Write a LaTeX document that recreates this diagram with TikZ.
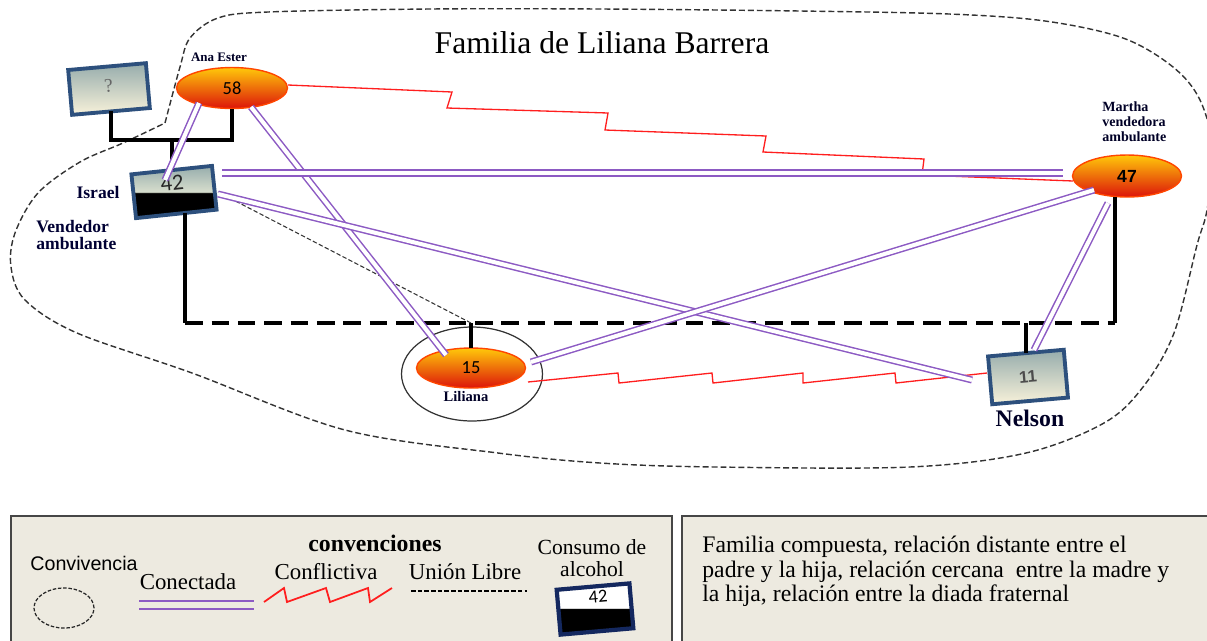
\documentclass[tikz,border=0pt]{standalone}
\usepackage{fontspec}
\setmainfont{Liberation Serif}
\newfontfamily\numfont{Carlito}
\newfontfamily\arialfont{Liberation Sans}
\usetikzlibrary{shapes.geometric,calc}

\definecolor{purp}{RGB}{140,90,195}
\definecolor{redl}{RGB}{255,30,30}
\definecolor{frameblue}{RGB}{45,80,125}
\definecolor{navy}{RGB}{20,40,95}
\definecolor{legfill}{RGB}{237,234,224}
\definecolor{legdraw}{RGB}{70,70,70}
\definecolor{boxtop}{RGB}{150,172,172}
\definecolor{boxbot}{RGB}{248,242,218}
\definecolor{isrlight}{RGB}{215,222,205}
\definecolor{ballyel}{RGB}{255,200,10}
\definecolor{ballor}{RGB}{255,100,0}
\definecolor{ballred}{RGB}{220,20,10}

\pgfdeclareverticalshading{israelsh}{100bp}{color(0bp)=(black); color(49bp)=(black); color(50bp)=(isrlight); color(75bp)=(boxtop); color(100bp)=(boxtop)}
\pgfdeclareverticalshading{legsh}{100bp}{color(0bp)=(black); color(50bp)=(black); color(51bp)=(white); color(100bp)=(white)}

\tikzset{
  person/.style={ellipse, inner sep=0pt, outer sep=0pt, draw=ballor!70!red, line width=0.8pt,
    top color=ballyel, middle color=ballor, bottom color=ballred, font=\numfont\fontsize{10.5}{11}\selectfont},
  framebox/.style={rectangle, inner sep=0pt, outer sep=0pt, draw=frameblue, line width=2.2pt,
    top color=boxtop, bottom color=boxbot},
  israelbox/.style={rectangle, inner sep=0pt, outer sep=0pt, draw=frameblue, line width=2.2pt, shading=israelsh},
  legiconbox/.style={rectangle, inner sep=0pt, outer sep=0pt, draw=navy, line width=2.4pt, shading=legsh},
  conn/.style={draw=purp, line width=0.85pt, double=white, double distance=2.3pt},
  confl/.style={draw=redl, line width=0.75pt, line join=miter},
  kin/.style={draw=black, line width=2.2pt},
  uniondash/.style={draw=black, line width=2.3pt, dash pattern=on 10pt off 5pt},
  distant/.style={draw=black!80, line width=0.6pt, dash pattern=on 2.5pt off 1.3pt},
  tinylbl/.style={font=\bfseries\fontsize{7.4}{8.5}\selectfont, text=black!85!blue},
  legtext/.style={font=\fontsize{13}{13}\selectfont},
  legbox/.style={rectangle, draw=legdraw, line width=1.2pt, fill=legfill, inner sep=0pt, anchor=north west},
}

\begin{document}
\begin{tikzpicture}[x=0.02cm,y=-0.02cm]
\useasboundingbox (0,0) rectangle (1207,640);

% family boundary
\draw[line width=0.8pt, dash pattern=on 3.4pt off 1.7pt, black!80]
  plot[smooth, tension=0.55] coordinates {(165,123) (180,67) (190,38) (218,18) (268,12) (430,9) (600,9) (800,11) (949,14) (1045,21) (1123,38) (1173,67) (1200,100) (1213,150) (1207,210) (1197,245) (1174,333) (1143,387) (1104,423) (1026,453) (910,467) (716,467) (600,463) (498,453) (345,430) (192,373) (77,333) (25,300) (11,267) (15,233) (38,193) (80,162) (123,143) (165,123)};

% title
\node[font=\fontsize{18}{20}\selectfont] (title) at (602,43) {Familia de Liliana Barrera};

% persons
\node[framebox, minimum width=1.56cm, minimum height=0.9cm, rotate=5, text=black!60,
      font=\fontsize{11}{11}\selectfont] (q) at (109,89) {\raisebox{4pt}{?}};
\node[person, minimum width=2.22cm, minimum height=0.82cm] (ana) at (232,88) {58};
\node[tinylbl] (analbl) at (219,57) {Ana Ester};

\node[israelbox, minimum width=1.62cm, minimum height=0.88cm, rotate=6] (isr) at (174,192) {};
\node[font=\numfont\fontsize{13}{13}\selectfont, rotate=6, text=black!85] (isrnum) at (172,183) {42};
\node[font=\bfseries\fontsize{10}{10}\selectfont, text=black!80!blue] (isrlbl) at (98,192) {Israel};
\node[font=\bfseries\fontsize{10}{9.5}\selectfont, text=black!80!blue, align=left, anchor=west, inner sep=0pt] (isrocc) at (36,235) {Vendedor\\ambulante};

\node[person, minimum width=2.18cm, minimum height=0.84cm, font=\arialfont\bfseries\fontsize{10}{10}\selectfont] (mar) at (1127,176) {47};
\node[tinylbl, font=\bfseries\fontsize{8}{8.5}\selectfont, align=left, anchor=west, inner sep=0pt] (marlbl) at (1102,122) {Martha\\vendedora\\ambulante};

\node[draw=black!80, line width=0.7pt, ellipse, minimum width=2.82cm, minimum height=1.88cm, inner sep=0pt] (convcirc) at (472,374) {};
\node[person, minimum width=2.18cm, minimum height=0.80cm] (lili) at (471,368) {15};
\node[tinylbl, font=\bfseries\fontsize{8.3}{9}\selectfont] (lililbl) at (466,397) {Liliana};

\node[framebox, minimum width=1.52cm, minimum height=0.96cm, rotate=5, text=black!70,
      font=\arialfont\bfseries\fontsize{9.5}{10}\selectfont] (nel) at (1028,377) {11};
\node[font=\bfseries\fontsize{13.5}{14}\selectfont, text=black!85!blue] (nellbl) at (1030,418) {Nelson};

% kinship lines
\draw[kin] (q.south) -- ++(0,29) coordinate (pbar) -| (ana.south);
\draw[kin] (isr.north) -- (isr.north |- pbar);
\coordinate (ubar) at (0,323);
\coordinate (isb) at ($(isr.south)!0.22!(isr.south east)$);
\coordinate (mb) at (mar.240);
\draw[kin] (isb) -- (isb |- ubar) coordinate (ul);
\draw[kin] (mb) -- (mb |- ubar) coordinate (ur);
\draw[uniondash] (ul) -- (ur);
\draw[kin] (lili.north) -- (lili.north |- ubar) coordinate (lt);
\draw[kin] (nel.north) -- (nel.north |- ubar);

% distant relation
\draw[distant] ($(isr)+(44,0)$) -- (lt);

% conflictive relations
\draw[confl] ($(ana)+(56,-3)$) -- ++(164,7) -- ++(-5,16) -- ++(161,5) -- ++(-3,17) -- ++(161,6) -- ++(-3,16) -- ++(161,7) -- ++(-2,16) -- ($(mar)+(-54,5)$);
\draw[confl] ($(lili)+(57,14)$) -- ++(90,-9) -- ++(1,10) -- ++(93,-10) -- ++(1,10) -- ++(90,-10) -- ++(0,10) -- ++(92,-10) -- ++(1,10) -- ($(nel)+(-41,-4)$);

% connected relations
\draw[conn] ($(ana)+(-33,15)$) -- ($(isr)+(-9,-12)$);
\draw[conn] ($(ana)+(19,19)$) -- ($(lili)+(-25,-13)$);
\draw[conn] ($(isr)+(48,-19)$) -- ($(mar)+(-64,-3)$);
\draw[conn] ($(isr)+(44,2)$) -- ($(nel)+(-56,3)$);
\draw[conn] ($(lili)+(60,-6)$) -- ($(mar)+(-33,14)$);
\draw[conn] ($(mar)+(-19,27)$) -- ($(nel)+(6,-27)$);

% legend
\node[legbox, minimum width=13.22cm, minimum height=2.8cm] (legA) at (10,515) {};
\node[legbox, minimum width=10.8cm, minimum height=2.8cm] (legB) at (681,515) {};

\node[font=\bfseries\fontsize{13.5}{14}\selectfont] (convtit) at (375,543) {convenciones};
\node[font=\arialfont\fontsize{11.2}{12}\selectfont] (convlbl) at (84,563) {Convivencia};
\node[draw=black!85, line width=0.7pt, dash pattern=on 2pt off 1pt, ellipse, minimum width=1.2cm, minimum height=0.8cm, inner sep=0pt] (convsym) at (64,608) {};
\node[legtext] (conlbl) at (188,582) {Conectada};
\coordinate (c1) at (139,605);
\coordinate (c2) at (254,605);
\draw[draw=purp, line width=1pt, double=legfill, double distance=3.4pt] (c1) -- (c2);
\node[legtext] (conflbl) at (326,572) {Conflictiva};
\coordinate (z0) at (264,602);
\draw[confl, line width=1pt] (z0) -- ++(20,-14) -- ++(3,14) -- ++(39,-14) -- ++(4,14) -- ++(38,-14) -- ++(2,14) -- ++(22,-14);
\node[legtext] (ullbl) at (465,572) {Unión Libre};
\coordinate (u0) at (411,591);
\coordinate (u1) at (527,591);
\draw[draw=black, line width=0.7pt, dash pattern=on 2.6pt off 1.2pt] (u0) -- (u1);
\node[font=\fontsize{12.3}{12.6}\selectfont, align=center] (alclbl) at (592,558) {Consumo de\\alcohol};
\node[legiconbox, minimum width=1.46cm, minimum height=0.9cm, rotate=5] (icon) at (595,609) {};
\node[font=\numfont\fontsize{10.5}{11}\selectfont, rotate=5] (iconnum) at (598,597) {42};

\node[anchor=north west, align=left, inner sep=0pt, font=\fontsize{13.5}{13.8}\selectfont] (desc) at (702,536)
  {Familia compuesta, relación distante entre el\\padre y la hija, relación cercana\ \ entre la madre y\\la hija, relación entre la diada fraternal};
\end{tikzpicture}
\end{document}
